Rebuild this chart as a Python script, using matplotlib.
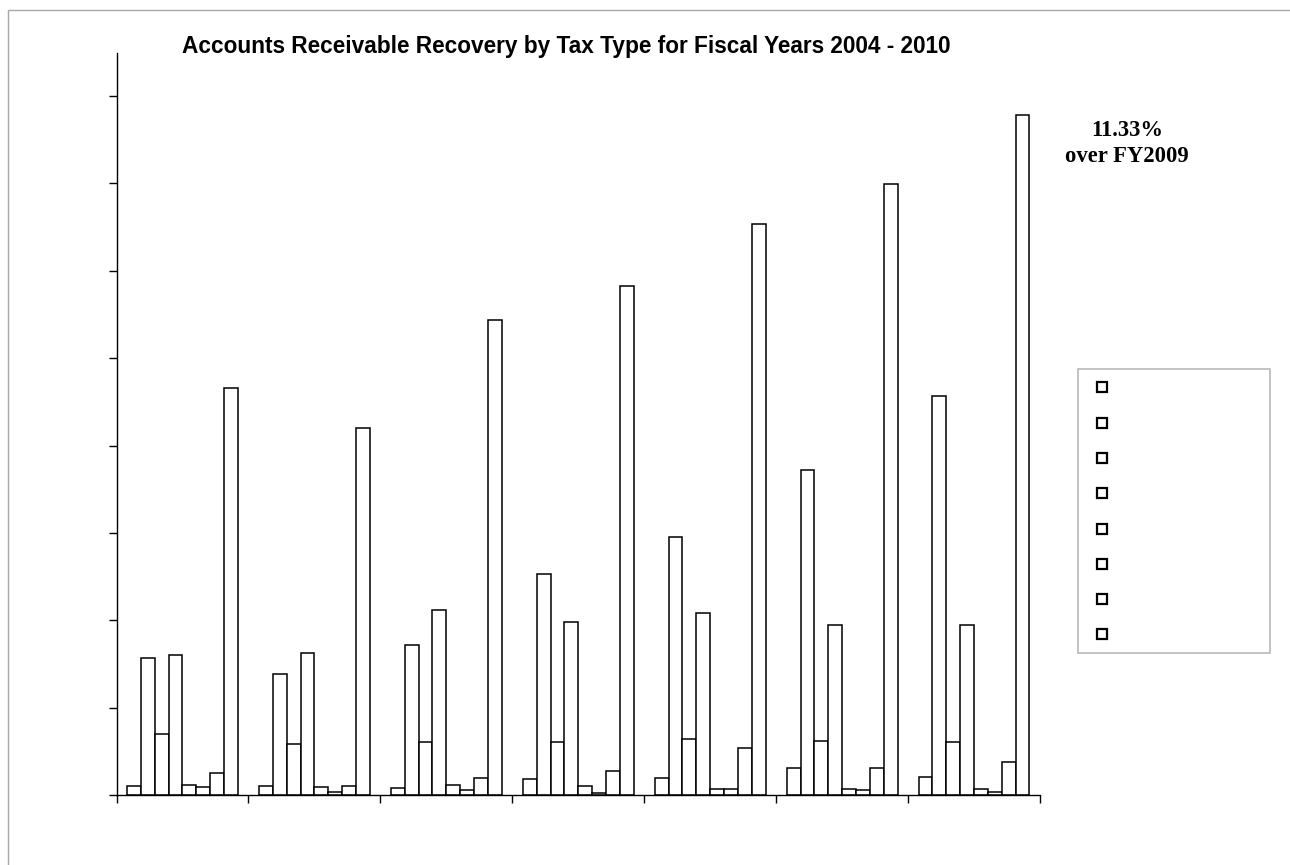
import matplotlib
matplotlib.use("Agg")
import matplotlib.pyplot as plt
from matplotlib.patches import Rectangle
import numpy as np

# Recovered amounts per fiscal year, one value per tax type (last = total)
fiscal_years = ["FY2004", "FY2005", "FY2006", "FY2007", "FY2008", "FY2009", "FY2010"]
fy2004 = [0.100, 1.565, 0.695, 1.600, 0.115, 0.095, 0.255, 4.664]
fy2005 = [0.103, 1.389, 0.580, 1.620, 0.092, 0.038, 0.106, 4.200]
fy2006 = [0.080, 1.718, 0.607, 2.118, 0.115, 0.057, 0.195, 5.436]
fy2007 = [0.180, 2.527, 0.610, 1.977, 0.100, 0.023, 0.270, 5.828]
fy2008 = [0.191, 2.954, 0.641, 2.078, 0.072, 0.072, 0.542, 6.533]
fy2009 = [0.309, 3.716, 0.622, 1.947, 0.072, 0.057, 0.313, 6.994]
fy2010 = [0.210, 4.562, 0.610, 1.947, 0.072, 0.038, 0.381, 7.786]
yearly = [fy2004, fy2005, fy2006, fy2007, fy2008, fy2009, fy2010]

title = "Accounts Receivable Recovery by Tax Type for Fiscal Years 2004 - 2010"
growth_note = "11.33%\nover FY2009"

W, H = 1290, 865
fig = plt.figure(figsize=(W / 100, H / 100), dpi=100)
fig.patch.set_facecolor("white")


def fx(px):
    return px / W


def fy(py):
    return 1 - py / H


# outer frame (top and left edges visible)
fig.add_artist(Rectangle((fx(8), fy(1000)), fx(1400), fy(10) - fy(1000),
                         transform=fig.transFigure, fill=False,
                         edgecolor="#a8a8a8", linewidth=1.0))

left, right, top, bottom = 116.5, 1040, 53.3, 795
ax = fig.add_axes([fx(left), fy(bottom), fx(right - left), fy(top) - fy(bottom)])

n_groups = len(yearly)
n_series = len(yearly[0])
bar_w = 0.105
offset = (1 - n_series * bar_w) / 2

data = np.array(yearly)
for j in range(n_series):
    xs = np.arange(n_groups) + offset + j * bar_w
    ax.bar(xs, data[:, j], width=bar_w, align="edge",
           facecolor="white", edgecolor="black", linewidth=1.1, zorder=2)

ax.set_xlim(0, n_groups)
ax.set_ylim(0, 8.49)
ax.set_xticks(np.arange(n_groups + 1))
ax.set_yticks(np.arange(0, 9))
ax.set_xticklabels([])
ax.set_yticklabels([])
ax.tick_params(axis="both", direction="out", length=6, width=1.0, color="black")
for s in ("top", "right"):
    ax.spines[s].set_visible(False)
for s in ("left", "bottom"):
    ax.spines[s].set_linewidth(1.0)
    ax.spines[s].set_color("black")
ax.set_facecolor("white")

fig.text(fx(566), fy(47), title, ha="center", va="center",
         fontsize=16.3, fontweight="bold", family="Liberation Sans")

fig.text(fx(1127), fy(131), growth_note.split("\n")[0], ha="center", va="center",
         fontsize=16.3, fontweight="bold", family="Liberation Serif")
fig.text(fx(1127), fy(156), growth_note.split("\n")[1], ha="center", va="center",
         fontsize=16.3, fontweight="bold", family="Liberation Serif")

# legend panel
fig.add_artist(Rectangle((fx(1078.3), fy(652.7)), fx(1270.3 - 1078.3),
                         fy(369.3) - fy(652.7), transform=fig.transFigure,
                         fill=False, edgecolor="#b4b4b4", linewidth=1.1))
sq = 10
for k in range(n_series):
    cy = 387.3 + k * 35.3
    fig.add_artist(Rectangle((fx(1101.7 - sq / 2), fy(cy + sq / 2)), fx(sq),
                             fy(cy - sq / 2) - fy(cy + sq / 2),
                             transform=fig.transFigure, facecolor="white",
                             edgecolor="black", linewidth=1.6))

fig.savefig("out.png", dpi=100, facecolor="white")
